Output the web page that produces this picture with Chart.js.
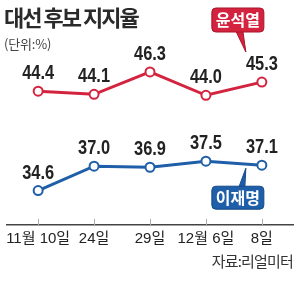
<!DOCTYPE html>
<html>
<head>
<meta charset="utf-8">
<script src="https://cdn.jsdelivr.net/npm/chart.js@4/dist/chart.umd.min.js"></script>
<style>
  html, body { margin:0; padding:0; background:#fff; }
  #wrap { position:relative; width:300px; height:293px; overflow:hidden; }
  canvas { position:absolute; left:0; top:0; }
  .t { position:absolute; white-space:nowrap; font-family:"Noto Sans CJK KR", "Noto Sans", sans-serif; }
  #title { left:4px; top:1px; font-size:22px; font-weight:700; color:#2a2a2a; letter-spacing:-2px; line-height:30px; }
  #unit { left:4px; top:35px; font-size:13px; color:#444; line-height:17px; letter-spacing:-0.2px; }
  #src { right:7px; top:251px; font-size:15px; color:#333; line-height:19px; letter-spacing:-0.8px; }
</style>
</head>
<body>
<div id="wrap">
  <canvas id="c" width="300" height="293"></canvas>
  <div class="t" id="title">대선 후보 지지율</div>
  <div class="t" id="unit">(단위:%)</div>
  <div class="t" id="src">자료:리얼미터</div>
</div>
<script>
const categories = ['11월 10일', '24일', '29일', '12월 6일', '8일'];
const yoonValues = [44.4, 44.1, 46.3, 44.0, 45.3];
const leeValues = [34.6, 37.0, 36.9, 37.5, 37.1];
const seriesNames = ['윤석열', '이재명'];

const RED = '#d4233e';
const BLUE = '#1f5ea8';
const NUM_FONT = '"Liberation Sans", Arial, sans-serif';
const TICK_FONT = '"Liberation Sans Narrow", "Liberation Sans", sans-serif';
const KR_FONT = '"Noto Sans CJK KR", sans-serif';

const toPoints = arr => arr.map((v, i) => ({ x: i, y: v }));

const labelPlugin = {
  id: 'valueLabels',
  afterDatasetsDraw(chart) {
    const ctx = chart.ctx;
    chart.data.datasets.forEach((ds, di) => {
      const meta = chart.getDatasetMeta(di);
      meta.data.forEach((el, i) => {
        ctx.save();
        ctx.translate(el.x, el.y - 12);
        ctx.scale(0.82, 1);
        ctx.font = 'bold 20px ' + NUM_FONT;
        ctx.fillStyle = '#222';
        ctx.textAlign = 'center';
        ctx.textBaseline = 'alphabetic';
        ctx.fillText(ds.data[i].y.toFixed(1), 0, 0);
        ctx.restore();
      });
    });
  }
};

function roundRect(ctx, x, y, w, h, r) {
  ctx.beginPath();
  ctx.moveTo(x + r, y);
  ctx.lineTo(x + w - r, y);
  ctx.quadraticCurveTo(x + w, y, x + w, y + r);
  ctx.lineTo(x + w, y + h - r);
  ctx.quadraticCurveTo(x + w, y + h, x + w - r, y + h);
  ctx.lineTo(x + r, y + h);
  ctx.quadraticCurveTo(x, y + h, x, y + h - r);
  ctx.lineTo(x, y + r);
  ctx.quadraticCurveTo(x, y, x + r, y);
  ctx.closePath();
}

const badgePlugin = {
  id: 'badges',
  afterDatasetsDraw(chart) {
    const ctx = chart.ctx;
    const area = chart.chartArea;
    ctx.save();
    const m0 = chart.getDatasetMeta(0).data;
    const p0 = m0[m0.length - 1];
    const bx = p0.x - 50, bw = 52;
    ctx.fillStyle = RED;
    ctx.strokeStyle = '#a8142a';
    ctx.lineWidth = 1;
    ctx.beginPath();
    ctx.moveTo(bx + 24, area.top - 5);
    ctx.lineTo(bx + 31, area.top - 5);
    ctx.lineTo(bx + 34, area.top + 16);
    ctx.closePath();
    ctx.fill();
    ctx.stroke();
    roundRect(ctx, bx, area.top - 28, bw, 24, 4);
    ctx.fill();
    ctx.stroke();
    ctx.fillStyle = '#fff';
    ctx.font = 'bold 16px ' + KR_FONT;
    ctx.textAlign = 'center';
    ctx.textBaseline = 'middle';
    ctx.fillText(seriesNames[0], bx + bw / 2, area.top - 16);

    const m1 = chart.getDatasetMeta(1).data;
    const p1 = m1[m1.length - 1];
    const by = p1.y + 21;
    ctx.fillStyle = BLUE;
    ctx.strokeStyle = '#154a88';
    ctx.beginPath();
    ctx.moveTo(bx + 27, by + 1);
    ctx.lineTo(bx + 33, by + 1);
    ctx.lineTo(bx + 34, p1.y + 3);
    ctx.closePath();
    ctx.fill();
    ctx.stroke();
    roundRect(ctx, bx, by, bw, 23, 4);
    ctx.fill();
    ctx.stroke();
    ctx.fillStyle = '#fff';
    ctx.fillText(seriesNames[1], bx + bw / 2, by + 12);
    ctx.restore();
  }
};

const tickMarkPlugin = {
  id: 'tickMarks',
  afterDraw(chart) {
    const ctx = chart.ctx;
    const xs = chart.scales.x;
    const bottom = chart.chartArea.bottom;
    ctx.save();
    ctx.strokeStyle = '#aaa';
    ctx.lineWidth = 1;
    xs.ticks.forEach(t => {
      const px = Math.round(xs.getPixelForValue(t.value)) + 0.5;
      ctx.beginPath();
      ctx.moveTo(px, bottom - 6);
      ctx.lineTo(px, bottom);
      ctx.stroke();
    });
    ctx.restore();
  }
};

new Chart(document.getElementById('c'), {
  type: 'line',
  data: {
    datasets: [
      {
        label: seriesNames[0],
        data: toPoints(yoonValues),
        borderColor: RED,
        backgroundColor: '#fff',
        borderWidth: 3,
        pointRadius: 4.5,
        pointBorderWidth: 2,
        pointBackgroundColor: '#fff',
        pointBorderColor: RED,
        tension: 0
      },
      {
        label: seriesNames[1],
        data: toPoints(leeValues),
        borderColor: BLUE,
        backgroundColor: '#fff',
        borderWidth: 3,
        pointRadius: 4.5,
        pointBorderWidth: 2,
        pointBackgroundColor: '#fff',
        pointBorderColor: BLUE,
        tension: 0
      }
    ]
  },
  options: {
    responsive: false,
    animation: false,
    events: [],
    layout: { padding: { left: 5, right: 5, top: 36, bottom: 40 } },
    plugins: { legend: { display: false }, tooltip: { enabled: false }, title: { display: false } },
    scales: {
      x: {
        type: 'linear',
        min: -0.566,
        max: 4.566,
        afterBuildTicks: scale => { scale.ticks = categories.map((_, i) => ({ value: i })); },
        afterFit: scale => { scale.paddingLeft = 0; scale.paddingRight = 0; },
        grid: { display: false, drawTicks: false },
        border: { display: true, color: '#444', width: 1.5 },
        ticks: {
          autoSkip: false,
          maxRotation: 0,
          padding: 5,
          color: '#222',
          font: { size: 15, family: TICK_FONT + ', ' + KR_FONT, lineHeight: 1.2 },
          callback: v => categories[v]
        }
      },
      y: {
        display: false,
        min: 31.2,
        max: 49.85
      }
    }
  },
  plugins: [labelPlugin, badgePlugin, tickMarkPlugin]
});
</script>
</body>
</html>
